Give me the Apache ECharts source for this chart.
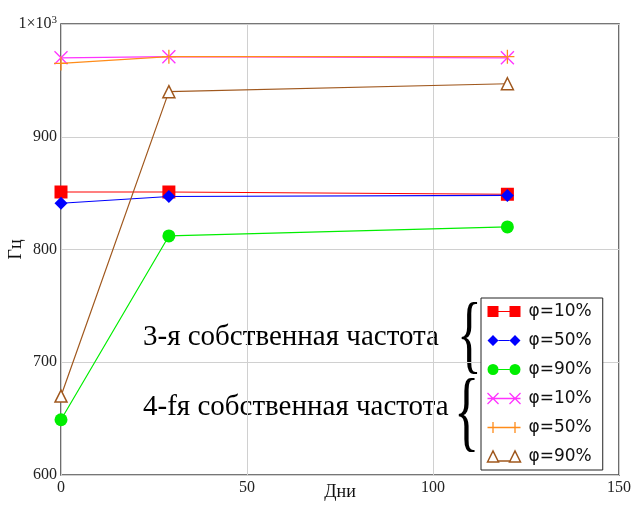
<!DOCTYPE html>
<html><head><meta charset="utf-8">
<script src="https://cdn.jsdelivr.net/npm/echarts@6/dist/echarts.min.js"></script>
<style>html,body{margin:0;padding:0;background:#fff}#c{width:634px;height:505px}</style>
</head><body><div id="c"></div>
<script>
const days = [0, 29, 120];
const f3_10 = [851, 851, 849];
const f3_50 = [841, 847, 848];
const f3_90 = [649, 812, 820];
const f4_10 = [970, 971, 970];
const f4_50 = [965, 971, 971];
const f4_90 = [670, 940, 947];
const xTicks = [0, 50, 100, 150];
const yTicks = [600, 700, 800, 900, 1000];
const legendLabels = ['φ=10%', 'φ=50%', 'φ=90%', 'φ=10%', 'φ=50%', 'φ=90%'];
const note3 = '3-я собственная частота';
const note4 = '4-fя собственная частота';

const FONT = '"Liberation Serif", "Times New Roman", serif';
function pts(v) { return days.map((d, i) => [d, v[i]]); }
const defs = [
  {id: 'a', data: f3_10, color: '#ff0000', symbol: 'rect', size: 13,
   icon: 'path://M0,1H12V13H0Z M24,1H36V13H24Z M12,6.4H24V7.6H12Z', fill: true},
  {id: 'b', data: f3_50, color: '#0000ff', symbol: 'diamond', size: 13,
   icon: 'path://M0,7L6,1L12,7L6,13Z M24,7L30,1L36,7L30,13Z M12,6.4H24V7.6H12Z', fill: true},
  {id: 'c', data: f3_90, color: '#00ee00', symbol: 'circle', size: 13,
   icon: 'path://M0,7A6,6 0 1 1 12,7A6,6 0 1 1 0,7Z M24,7A6,6 0 1 1 36,7A6,6 0 1 1 24,7Z M12,6.4H24V7.6H12Z', fill: true},
  {id: 'd', data: f4_10, color: '#ff33ff', symbol: 'path://M0,0L10,10M10,0L0,10', size: 13, stroke: true,
   icon: 'path://M0,1L12,13M12,1L0,13M24,1L36,13M36,1L24,13M0,7H36'},
  {id: 'e', data: f4_50, color: '#ff8c1a', symbol: 'path://M5,0L5,10M0,5L10,5', size: 14, stroke: true,
   icon: 'path://M6,1V13M30,1V13M0,7H36M0,1M36,13'},
  {id: 'f', data: f4_90, color: '#a0581e', symbol: 'triangle', size: 12, hollow: true,
   icon: 'path://M0,13L6,1L12,13Z M24,13L30,1L36,13Z M12,12H24'}
];
const series = defs.map((d, i) => ({
  name: d.id + legendLabels[i],
  type: 'line',
  data: pts(d.data),
  symbol: d.symbol,
  symbolSize: d.size,
  showAllSymbol: true,
  lineStyle: {color: d.color, width: 1.2},
  itemStyle: d.stroke ? {color: d.color, borderColor: d.color, borderWidth: 1.3}
    : d.hollow ? {color: '#fff', borderColor: d.color, borderWidth: 1.5}
    : {color: d.color, borderWidth: 0},
  emphasis: {disabled: true},
  z: 3
}));
const legendData = defs.map((d, i) => ({
  name: series[i].name,
  icon: d.icon,
  itemStyle: d.fill ? {color: d.color, borderWidth: 0}
    : d.hollow ? {color: '#fff', borderColor: d.color, borderWidth: 1.5}
    : {color: 'none', borderColor: d.color, borderWidth: 1.3}
}));

const chart = echarts.init(document.getElementById('c'));
chart.setOption({
  animation: false,
  backgroundColor: '#fff',
  grid: {left: 61, right: 15, top: 24, bottom: 30, outerBoundsMode: 'none', containLabel: false,
    show: true, borderColor: '#4a4a4a', borderWidth: 1.6, backgroundColor: 'transparent'},
  xAxis: {
    type: 'value', min: xTicks[0], max: xTicks[xTicks.length - 1], interval: 50,
    name: 'Дни', nameLocation: 'middle', nameGap: 8, nameMoveOverlap: false,
    nameTextStyle: {fontFamily: FONT, fontSize: 18, color: '#111'},
    axisLine: {show: false}, axisTick: {show: false},
    axisLabel: {fontFamily: FONT, fontSize: 16, color: '#222', margin: 5},
    splitLine: {show: true, lineStyle: {color: '#d0d0d0', width: 1}}
  },
  yAxis: {
    type: 'value', min: yTicks[0], max: yTicks[yTicks.length - 1], interval: 100,
    name: 'Гц', nameLocation: 'middle', nameGap: 36, nameRotate: 90, nameMoveOverlap: false,
    nameTextStyle: {fontFamily: FONT, fontSize: 18, color: '#111'},
    axisLine: {show: false}, axisTick: {show: false},
    axisLabel: {
      fontFamily: FONT, fontSize: 16, color: '#222', margin: 4,
      formatter: v => v === 1000 ? '1×10{s|3}' : String(v),
      rich: {s: {fontFamily: FONT, fontSize: 11, verticalAlign: 'top', padding: [0, 0, 8, 0], color: '#222'}}
    },
    splitLine: {show: true, lineStyle: {color: '#d0d0d0', width: 1}}
  },
  legend: {
    orient: 'vertical', left: 481, top: 298,
    data: legendData,
    itemWidth: 33, itemHeight: 13, itemGap: 12,
    padding: [5, 11, 5, 4],
    backgroundColor: '#fff', borderColor: '#222', borderWidth: 1,
    formatter: n => n.slice(1),
    textStyle: {fontFamily: '"DejaVu Sans", sans-serif', fontSize: 17, color: '#111', padding: [0, 0, 0, 3]},
    selectedMode: false
  },
  graphic: [
    {type: 'text', x: 143, y: 337, style: {text: note3, font: '29px ' + FONT, fill: '#000', verticalAlign: 'middle'}},
    {type: 'text', x: 143, y: 407, style: {text: note4, font: '29px ' + FONT, fill: '#000', verticalAlign: 'middle'}},
    {type: 'text', x: 457, y: 296, scaleX: 0.6, style: {text: '{', font: '86px ' + FONT, fill: '#000'}},
    {type: 'text', x: 454, y: 373, scaleX: 0.6, style: {text: '{', font: '88px ' + FONT, fill: '#000'}}
  ],
  series: series
});
</script></body></html>
